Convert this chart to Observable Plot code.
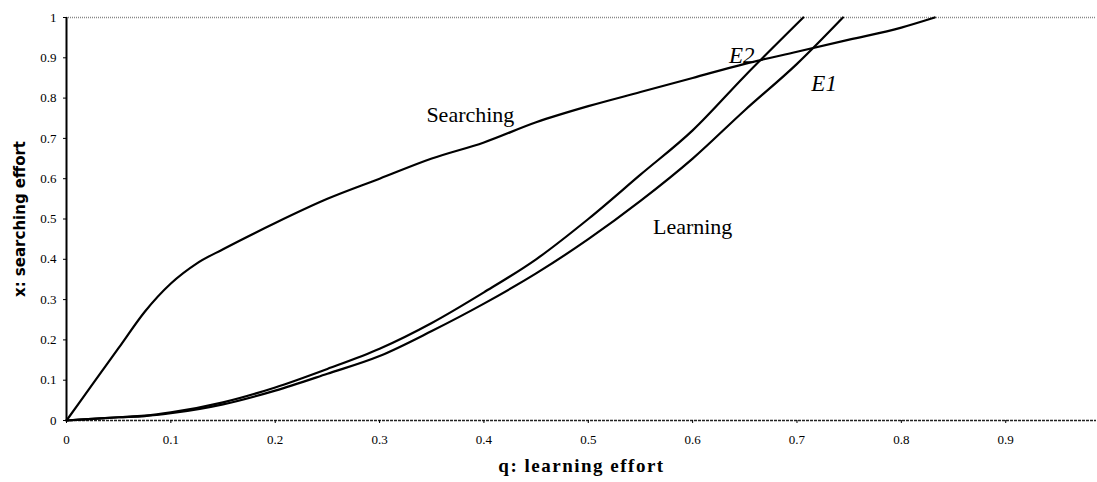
<!DOCTYPE html>
<html>
<head>
<meta charset="utf-8">
<script src="https://cdn.jsdelivr.net/npm/d3@7"></script>
<script src="https://cdn.jsdelivr.net/npm/@observablehq/plot@0.6"></script>
<style>
  body { margin: 0; background: #fff; }
  #chart svg { display: block; }
  #chart svg text.serif-t { font-family: "Liberation Serif", "Times New Roman", serif !important; }
  #chart svg g[aria-label$="tick label"] text { font-family: "Liberation Serif", "Times New Roman", serif !important; font-size: 13px !important; }
</style>
</head>
<body>
<div id="chart"></div>
<script>
// Searching curve
const searchQ = [0, 0.025, 0.05, 0.075, 0.1, 0.125, 0.15, 0.2, 0.25, 0.3, 0.35, 0.4, 0.45, 0.5, 0.55, 0.6, 0.65, 0.7, 0.75, 0.8, 0.832];
const searchX = [0, 0.09, 0.18, 0.27, 0.34, 0.39, 0.425, 0.49, 0.55, 0.60, 0.65, 0.69, 0.74, 0.78, 0.815, 0.85, 0.885, 0.915, 0.945, 0.975, 1.0];
// Learning curve E2 (upper)
const learn2Q = [0, 0.025, 0.05, 0.075, 0.1, 0.15, 0.2, 0.25, 0.3, 0.35, 0.4, 0.45, 0.5, 0.55, 0.6, 0.65, 0.706];
const learn2X = [0, 0.004, 0.008, 0.012, 0.02, 0.045, 0.082, 0.128, 0.178, 0.242, 0.318, 0.40, 0.50, 0.61, 0.72, 0.855, 1.0];
// Learning curve E1 (lower)
const learn1Q = [0, 0.025, 0.05, 0.075, 0.1, 0.15, 0.2, 0.25, 0.3, 0.35, 0.4, 0.45, 0.5, 0.55, 0.6, 0.65, 0.7, 0.744];
const learn1X = [0, 0.004, 0.008, 0.011, 0.018, 0.04, 0.074, 0.116, 0.16, 0.222, 0.29, 0.365, 0.45, 0.545, 0.65, 0.77, 0.885, 1.0];
// Tick values
const xTicks = [0, 0.1, 0.2, 0.3, 0.4, 0.5, 0.6, 0.7, 0.8, 0.9];
const yTicks = [0, 0.1, 0.2, 0.3, 0.4, 0.5, 0.6, 0.7, 0.8, 0.9, 1];
// Annotations
const labelText = ["Searching", "Learning"];
const labelQ = [0.387, 0.600];
const labelX = [0.757, 0.481];
const eqText = ["E2", "E1"];
const eqQ = [0.647, 0.726];
const eqX = [0.905, 0.836];

const toRows = (qs, xs) => qs.map((q, i) => ({q, x: xs[i]}));
const search = toRows(searchQ, searchX);
const learn2 = toRows(learn2Q, learn2X);
const learn1 = toRows(learn1Q, learn1X);
const labels = labelText.map((t, i) => ({t, q: labelQ[i], x: labelX[i]}));
const eqs = eqText.map((t, i) => ({t, q: eqQ[i], x: eqX[i]}));

const serif = "Liberation Serif";
const fmt = d => (d === 0 || d === 1) ? String(d) : d.toFixed(1);

const chart = Plot.plot({
  width: 1097,
  height: 482,
  marginLeft: 66,
  marginRight: 1,
  marginTop: 17,
  marginBottom: 62,
  style: {fontFamily: serif, background: "#fff", overflow: "visible"},
  x: {domain: [0, 0.987]},
  y: {domain: [0, 1]},
  marks: [
    Plot.ruleY([1], {stroke: "#888", strokeWidth: 1.5, strokeDasharray: "1,1"}),
    Plot.ruleY([0], {stroke: "#222", strokeWidth: 1.5, strokeDasharray: "3,1"}),
    Plot.ruleX([0], {stroke: "#000", strokeWidth: 2}),
    Plot.axisX({ticks: xTicks, tickFormat: fmt, tickSize: 3, tickPadding: 11, label: null, stroke: "#000", fill: "#000"}),
    Plot.axisY({ticks: yTicks, tickFormat: fmt, tickSize: 3, tickPadding: 7, label: null, stroke: "#000", fill: "#000"}),
    Plot.line(search, {x: "q", y: "x", stroke: "#000", strokeWidth: 2.2, curve: "monotone-x"}),
    Plot.line(learn2, {x: "q", y: "x", stroke: "#000", strokeWidth: 2.2, curve: "monotone-x"}),
    Plot.line(learn1, {x: "q", y: "x", stroke: "#000", strokeWidth: 2.2, curve: "monotone-x"}),
    Plot.text(labels, {x: "q", y: "x", text: "t", fontSize: 22, fill: "#000", fontFamily: serif}),
    Plot.text(eqs, {x: "q", y: "x", text: "t", fontSize: 23, fill: "#000", fontStyle: "italic", fontFamily: serif}),
    Plot.text(["q: learning effort"], {frameAnchor: "bottom", dy: 51, text: d => d, fontSize: 19, fontWeight: "bold", fontFamily: serif, fill: "#000"}),
    Plot.text(["x: searching effort"], {frameAnchor: "left", textAnchor: "middle", dx: -46, rotate: -90, text: d => d, fontSize: 15, fontWeight: "bold", fontFamily: "DejaVu Sans", fill: "#000"})
  ]
});
// serif bold x title with wide letter spacing (as in the reference)
d3.select(chart).selectAll("text").filter(function() { return this.textContent === "q: learning effort"; })
  .classed("serif-t", true)
  .style("font-weight", "700")
  .style("letter-spacing", "1.5px");
document.getElementById("chart").appendChild(chart);
</script>
</body>
</html>
